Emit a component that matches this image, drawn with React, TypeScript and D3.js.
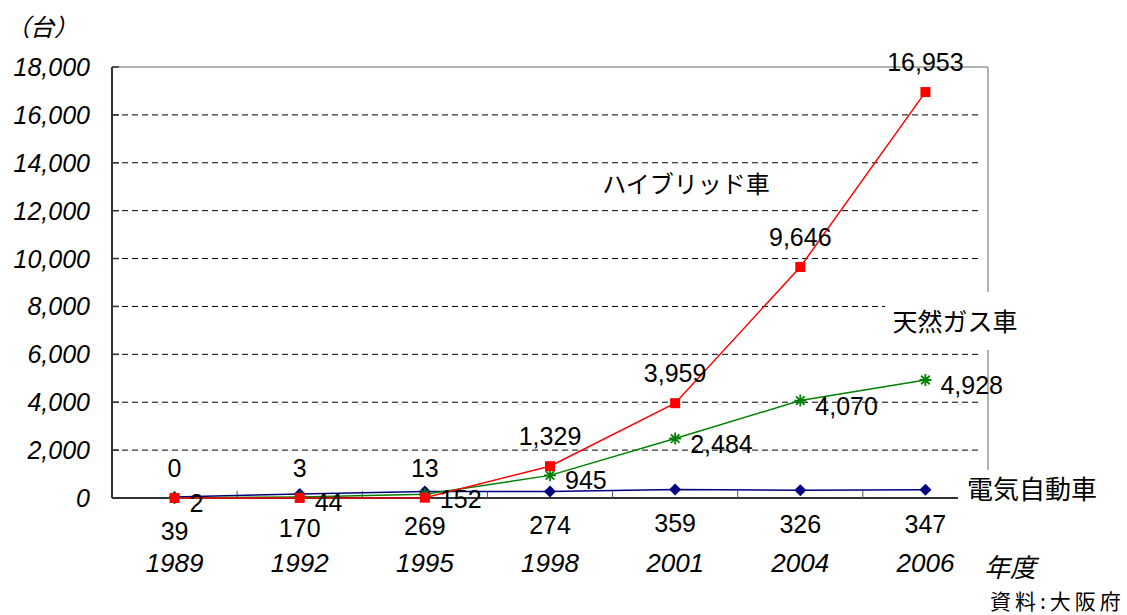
import * as d3 from 'd3';

const years = ['1989', '1992', '1995', '1998', '2001', '2004', '2006'];
const hybrid = [0, 3, 13, 1329, 3959, 9646, 16953];
const gas = [2, 44, 152, 945, 2484, 4070, 4928];
const electric = [39, 170, 269, 274, 359, 326, 347];
const yTicks = [0, 2000, 4000, 6000, 8000, 10000, 12000, 14000, 16000, 18000];

const W = 1127;
const H = 615;
const left = 112, right = 988, top = 67, bottom = 498;

const NUM_FONT = '"Liberation Sans", Arial, sans-serif';
const JP_FONT = '"Noto Sans CJK JP", "Liberation Sans", sans-serif';

const App = () => {
  const x = d3.scaleBand().domain(years).range([left, right]);
  const cx = (yr: string) => (x(yr) as number) + x.bandwidth() / 2;
  const y = d3.scaleLinear().domain([0, 18000]).range([bottom, top]);
  const fmt = d3.format(',');

  const line = (vals: number[]) =>
    d3.line<number>().x((_, i) => cx(years[i])).y(d => y(d))(vals) as string;

  const star = (px: number, py: number, r: number) => {
    const segs = [0, 45, 90, 135].map(a => {
      const rad = (a * Math.PI) / 180;
      const dx = Math.cos(rad) * r, dy = Math.sin(rad) * r;
      return `M${px - dx},${py - dy}L${px + dx},${py + dy}`;
    });
    return segs.join('');
  };

  return (
    <svg width={W} height={H} style={{ position: 'absolute', left: 0, top: 0, background: '#fff' }}>
      {/* grid */}
      {yTicks.filter(t => t > 0 && t < 18000).map(t => (
        <line key={t} x1={left} x2={right - 6} y1={y(t)} y2={y(t)}
          stroke="#000" strokeWidth={1} strokeDasharray="6,4" />
      ))}
      {/* frame */}
      <line x1={left} x2={right} y1={top} y2={top} stroke="#999" strokeWidth={1.5} />
      <line x1={right} x2={right} y1={top} y2={bottom} stroke="#999" strokeWidth={1.5} />
      <line x1={left} x2={left} y1={top} y2={bottom} stroke="#333" strokeWidth={2} />
      <line x1={left} x2={right} y1={bottom} y2={bottom} stroke="#333" strokeWidth={2} />
      {yTicks.map(t => (
        <line key={'yt' + t} x1={left} x2={left + 7} y1={y(t)} y2={y(t)} stroke="#333" strokeWidth={1.5} />
      ))}
      {years.slice(1).map(yr => (
        <line key={'xt' + yr} x1={x(yr)} x2={x(yr)} y1={bottom} y2={bottom - 7} stroke="#555" strokeWidth={1} />
      ))}

      {/* y tick labels */}
      {yTicks.map(t => (
        <text key={'yl' + t} x={90} y={y(t)} dy="0.36em" textAnchor="end"
          fontFamily={NUM_FONT} fontStyle="italic" fontSize={25}>{fmt(t)}</text>
      ))}
      {/* x labels */}
      {years.map(yr => (
        <text key={'xl' + yr} x={cx(yr)} y={572} textAnchor="middle"
          fontFamily={NUM_FONT} fontStyle="italic" fontSize={26}>{yr}</text>
      ))}

      {/* series name boxes */}
      <rect x={597} y={168} width={175} height={42} fill="#fff" />
      <text x={686} y={184} dy="0.36em" textAnchor="middle" fontFamily={JP_FONT} fontSize={24}>ハイブリッド車</text>
      <rect x={885} y={292} width={140} height={58} fill="#fff" />
      <text x={955} y={322} dy="0.36em" textAnchor="middle" fontFamily={JP_FONT} fontSize={25}>天然ガス車</text>
      <rect x={958} y={470} width={150} height={40} fill="#fff" />
      <text x={1032} y={490} dy="0.36em" textAnchor="middle" fontFamily={JP_FONT} fontSize={26}>電気自動車</text>

      {/* lines */}
      <path d={line(electric)} fill="none" stroke="#000080" strokeWidth={1.5} />
      <path d={line(gas)} fill="none" stroke="#008000" strokeWidth={1.5} />
      <path d={line(hybrid)} fill="none" stroke="#ff0000" strokeWidth={1.5} />

      {/* markers */}
      {electric.map((v, i) => {
        const px = cx(years[i]), py = y(v), r = 6;
        return <path key={'em' + i} d={`M${px},${py - r}L${px + r},${py}L${px},${py + r}L${px - r},${py}Z`} fill="#000080" />;
      })}
      {gas.map((v, i) => (
        <path key={'gm' + i} d={star(cx(years[i]), y(v), 6)} stroke="#008000" strokeWidth={1.8} fill="none" />
      ))}
      {hybrid.map((v, i) => (
        <rect key={'hm' + i} x={cx(years[i]) - 5} y={y(v) - 5} width={10} height={10} fill="#ff0000" />
      ))}

      {/* value labels */}
      {hybrid.map((v, i) => (
        <text key={'hl' + i} x={cx(years[i])} y={y(v) - 30} dy="0.36em" textAnchor="middle"
          fontFamily={NUM_FONT} fontSize={25}>{fmt(v)}</text>
      ))}
      {gas.map((v, i) => (
        <text key={'gl' + i} x={cx(years[i]) + 15} y={y(v) + 5} dy="0.36em" textAnchor="start"
          fontFamily={NUM_FONT} fontSize={25}>{fmt(v)}</text>
      ))}
      {electric.map((v, i) => (
        <text key={'el' + i} x={cx(years[i])} y={y(v) + 34} dy="0.36em" textAnchor="middle"
          fontFamily={NUM_FONT} fontSize={25}>{fmt(v)}</text>
      ))}

      {/* annotations */}
      <text x={6} y={27} dy="0.36em" fontFamily={JP_FONT} fontStyle="italic" fontSize={24}>（台）</text>
      <text x={984} y={568} dy="0.36em" fontFamily={JP_FONT} fontStyle="italic" fontSize={26}>年度</text>
      <text x={990} y={601} dy="0.36em" fontFamily={JP_FONT} fontSize={21} letterSpacing={4}>資料:大阪府</text>
    </svg>
  );
};

export default App;
